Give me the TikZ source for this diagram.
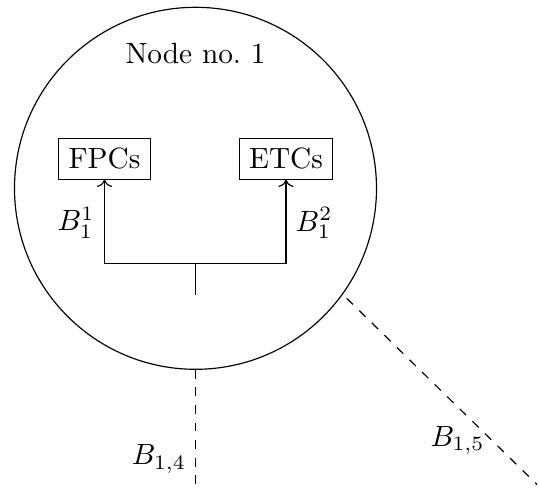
\documentclass[tikz,border=0pt]{standalone}
\usetikzlibrary{arrows.meta}
\begin{document}
\begin{tikzpicture}[x=0.3413pt, y=-0.3413pt,
  boxnode/.style={draw, rectangle, inner sep=0.3333em},
  hubcircle/.style={draw, circle, minimum size=123.55pt, inner sep=0pt},
  branch/.style={->},
  link/.style={dashed}]
  \useasboundingbox (0,0) rectangle (539,491);

  % the node as a large circle with its title
  \node[hubcircle] (hub) at (195.5,188.3) {};
  \node[anchor=base] (title) at (195.5,63.3) {Node no.~1};

  % the two internal blocks
  \node[boxnode] (fpc) at (104.5,158.7) {FPCs};
  \node[boxnode] (etc) at (286,158.7) {ETCs};

  % fork feeding both blocks
  \coordinate (fork) at (195.5,263.3);
  \coordinate (stem) at (195.5,294.7);
  \draw (stem) -- (fork);
  \draw[branch] (fork) -| (fpc.south);
  \draw[branch] (fork) -| (etc.south);
  \node (b11) at (76,222.5) {$B_1^1$};
  \node (b12) at (314,223) {$B_1^2$};

  % outgoing links
  \coordinate (down) at (195.5,491);
  \draw[link] (hub.south) -- (down);
  \node (b14) at (159,459) {$B_{1,4}$};

  \coordinate (diagA) at (346.7,298.3);
  \coordinate (diagB) at (537,484.5);
  \draw[link] (diagA) -- (diagB);
  \node (b15) at (457.5,440.5) {$B_{1,5}$};
\end{tikzpicture}
\end{document}
